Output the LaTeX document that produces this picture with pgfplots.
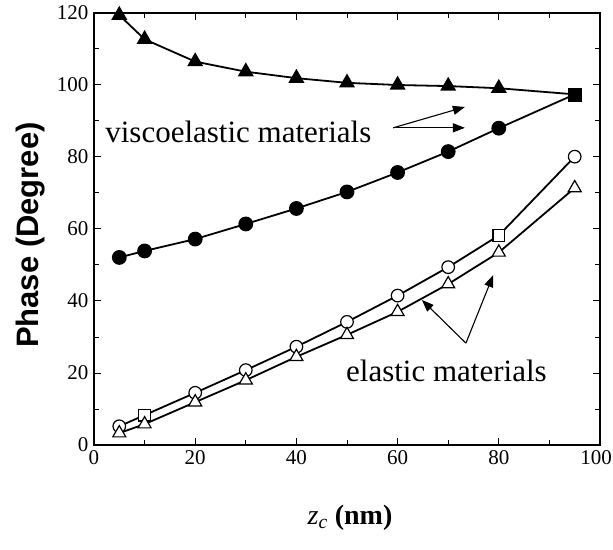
\documentclass[border=0pt]{standalone}
\usepackage{fontspec}
\setmainfont{Liberation Serif}
\newfontfamily\labelsans{Liberation Sans}
\usepackage{pgfplots}
\pgfplotsset{compat=1.18}
\usetikzlibrary{arrows.meta}

\begin{document}
\begin{tikzpicture}[x=1pt,y=1pt]
\begin{axis}[
    scale only axis,
    width=506pt, height=432pt,
    xmin=0, xmax=100, ymin=0, ymax=120,
    xtick={0,20,...,100}, ytick={0,20,...,120},
    xticklabels={0,20,40,60,80,\hspace*{-8pt}100},
    minor x tick num=1, minor y tick num=1,
    tick align=inside,
    major tick length=7pt, minor tick length=5pt,
    every tick/.style={line width=1pt},
    axis line style={line width=1.4pt},
    tick label style={font=\fontsize{21}{21}\selectfont},
    /pgf/number format/assume math mode=true,
    xticklabel style={yshift=-2pt},
    yticklabel style={xshift=-2pt},
    xlabel={\fontsize{28}{28}\selectfont\textit{z}\textsubscript{\textit{c}} \textbf{(nm)}},
    ylabel={\labelsans\bfseries\fontsize{31}{31}\selectfont Phase (Degree)},
    xlabel style={at={(axis description cs:0.506,-0.169)}, anchor=center},
    ylabel style={at={(axis description cs:-0.126,0.486)}, anchor=center},
    clip=false,
]
% viscoelastic, upper
\addplot[black, line width=1.8pt, mark=triangle*, mark size=7.5pt] coordinates {
 (5,119.4) (10,112.7) (20,106.5) (30,103.7) (40,101.9) (50,100.6) (60,100.0) (70,99.7) (80,99.1)};
\addplot[black, line width=1.8pt] coordinates {(80,99.1) (95,97.4)};
% viscoelastic, lower
\addplot[black, line width=1.8pt, mark=*, mark size=6.5pt] coordinates {
 (5,52.1) (10,53.9) (20,57.2) (30,61.4) (40,65.7) (50,70.3) (60,75.7) (70,81.5) (80,88.0)};
\addplot[black, line width=1.8pt] coordinates {(80,88.0) (95,97.4)};
\addplot[only marks, mark=square*, mark size=6.5pt] coordinates {(95,97.4)};
% elastic, upper
\addplot[black, line width=1.8pt] coordinates {
 (5,5.2) (10,8.3) (20,14.5) (30,20.8) (40,27.3) (50,34.2) (60,41.5) (70,49.4) (80,58.2) (95,80.1)};
\addplot[only marks, mark=*, mark size=6.3pt, mark options={fill=white, line width=1.2pt}] coordinates {
 (5,5.2) (20,14.5) (30,20.8) (40,27.3) (50,34.2) (60,41.5) (70,49.4) (95,80.1)};
\addplot[only marks, mark=square*, mark size=5.8pt, mark options={fill=white, line width=1.2pt}] coordinates {
 (10,8.3) (80,58.2)};
% elastic, lower
\addplot[black, line width=1.8pt, mark=triangle*, mark size=7.5pt, mark options={fill=white, line width=1.2pt}] coordinates {
 (5,3.3) (10,5.8) (20,11.9) (30,18.0) (40,24.5) (50,30.6) (60,37.0) (70,44.7) (80,53.5) (95,71.4)};

\node[anchor=base west, inner sep=0pt, font=\fontsize{31}{31}\selectfont] at (axis cs:2.2,83.9) {viscoelastic materials};
\node[anchor=base east, inner sep=0pt, font=\fontsize{31}{31}\selectfont] at (axis cs:89.5,17.6) {elastic materials};
\draw[line width=1.1pt, -{Triangle[length=12pt,width=9pt]}] (axis cs:59.1,88.1) -- (axis cs:73.3,93.9);
\draw[line width=1.1pt, -{Triangle[length=12pt,width=9pt]}] (axis cs:59.1,88.1) -- (axis cs:73.3,88.1);
\draw[line width=1.1pt, -{Triangle[length=12pt,width=9pt]}] (axis cs:73.5,28.3) -- (axis cs:64.8,40.3);
\draw[line width=1.1pt, -{Triangle[length=12pt,width=9pt]}] (axis cs:73.5,28.3) -- (axis cs:78.9,47.2);
\end{axis}
\pgfresetboundingbox
\path[use as bounding box] (-94pt,-104pt) rectangle (519pt,445pt);
\end{tikzpicture}
\end{document}
